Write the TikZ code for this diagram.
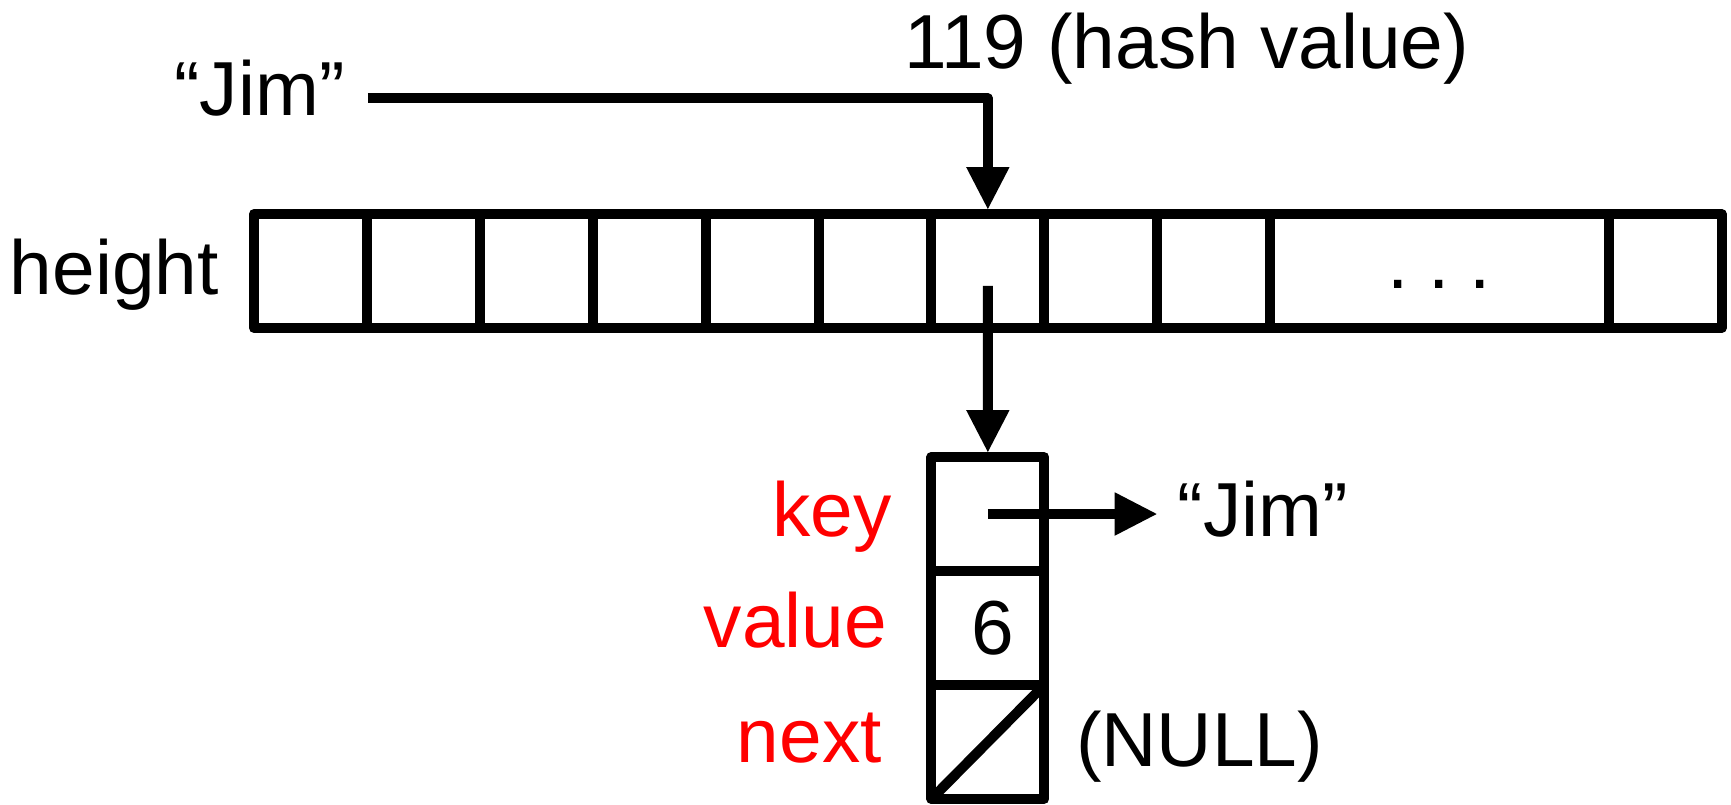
\documentclass[tikz,border=0pt]{standalone}
\usepackage{fontspec}
\setmainfont{Liberation Sans}
\usetikzlibrary{arrows.meta}

\begin{document}
\begin{tikzpicture}[x=0.5pt,y=-0.5pt,
  lbl/.style={inner sep=0pt, font=\fontsize{38.3pt}{46pt}\selectfont},
  field/.style={lbl, text=red, anchor=base east},
  cell/.style={draw, line width=5pt, line join=round, inner sep=0pt,
               minimum width=56.45pt, minimum height=57pt,
               font=\fontsize{38.3pt}{46pt}\selectfont},
  ptr/.style={line width=5pt, line join=round,
              -{Triangle[length=21pt,width=21.75pt,line width=0pt]}}
]
\useasboundingbox (0,0) rectangle (1731,804);

% the bucket array
\foreach \i in {1,...,9}
  \node[cell] (c\i) at ({254+112.9*(\i-0.5)},271) {};
\node[cell, minimum width=169.35pt] (c10) at (1439.45,271) {};
\node[cell] (c11) at (1665.25,271) {};
\node[lbl, anchor=base] (dots) at (1439.45,288) {.\hspace{0.26em}.\hspace{0.26em}.};
\node[lbl, anchor=base west] (arrlbl) at (9.5,294) {height};

% the key and its hash
\node[lbl, anchor=base west] (jimL) at (174,115) {“Jim”};
\node[lbl, anchor=base west] (hash) at (903.7,68.3) {119 (hash value)};

% the list entry
\node[cell] (k) at (987.85,514) {};
\node[cell] (v) at (987.85,628) {\hspace*{4.6pt}6};
\node[cell, path picture={\draw[line width=5pt]
      (path picture bounding box.south west) --
      (path picture bounding box.north east);}] (n) at (987.85,742) {};

\node[field] (keylbl) at (892,536.7) {key};
\node[field] (vallbl) at (887.5,647.3) {value};
\node[field] (nextlbl) at (882,762.3) {next};

\node[lbl, anchor=base west, inner xsep=10.4pt] (jimR) at (1156.7,536.7) {“Jim”};
\node[lbl, anchor=base west] (null) at (1075.6,766) {(NULL)};

% pointers
\draw[ptr] ([xshift=11.5pt,yshift=-5.4pt]jimL.east) -| (c7.north);
\draw[ptr] ([yshift=-7.4pt]c7.center) -- (k.north);
\draw[ptr] (k.center) -- (jimR.west |- k.center);
\end{tikzpicture}
\end{document}
